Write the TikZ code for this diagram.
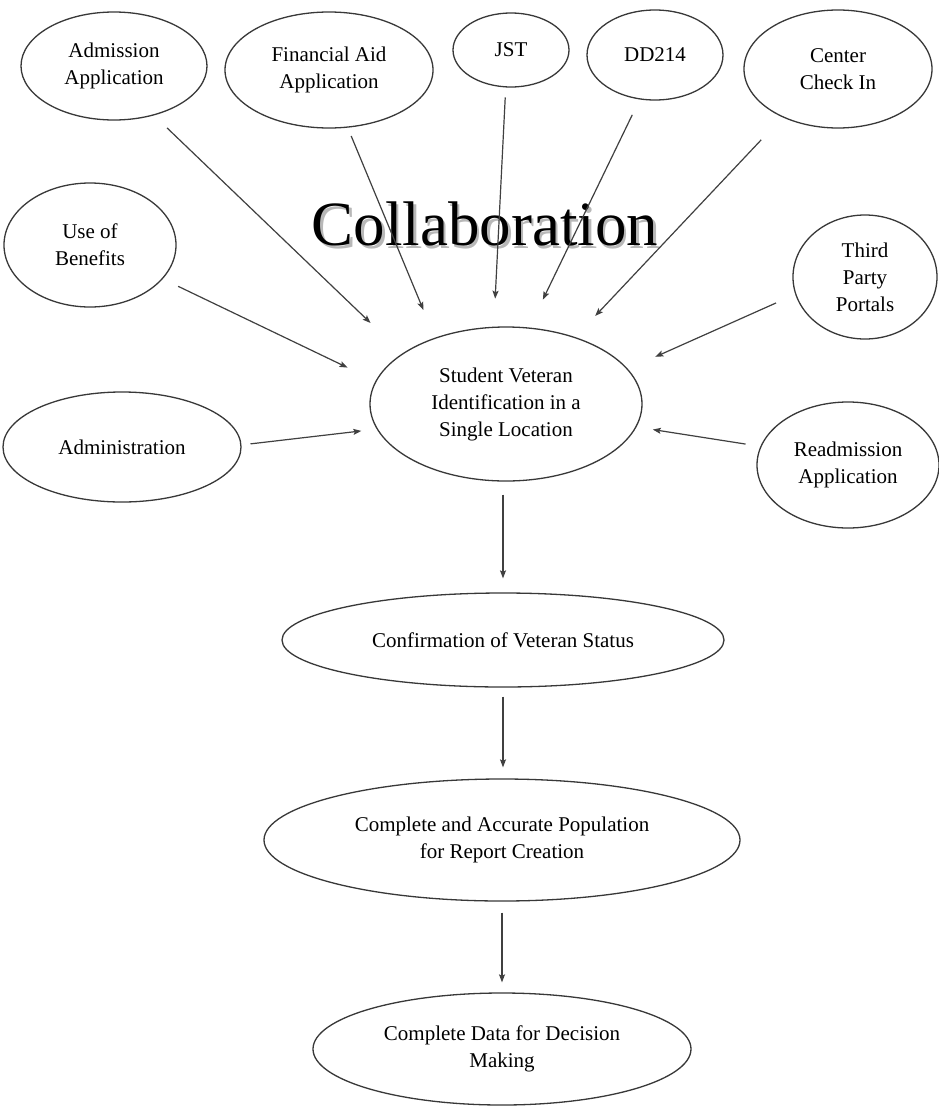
\documentclass[tikz,border=0pt]{standalone}
\usepackage{fontspec}
\setmainfont{Liberation Serif}
\usetikzlibrary{shapes.geometric,arrows.meta}
\begin{document}
\begin{tikzpicture}[x=1pt,y=-1pt,
  bub/.style={ellipse,draw=black!78,line width=1.3pt,inner sep=0pt,align=center,
              font=\fontsize{21}{27}\selectfont},
  arr/.style={draw=black!75,line width=1.2pt,-{Stealth[length=8pt,width=6pt,inset=1.5pt]}},
  bigtxt/.style={anchor=base,font=\fontsize{63}{70}\selectfont}]
\fill[white] (0,0) rectangle (938,1106);
\useasboundingbox (0,0) rectangle (938,1106);

% top row
\node[bub,minimum width=186pt,minimum height=108pt] (adm) at (114,66) {Admission\\Application};
\node[bub,minimum width=208pt,minimum height=116pt] (fin) at (329,70) {Financial Aid\\Application};
\node[bub,minimum width=116pt,minimum height=74pt] (jst) at (511,50) {JST};
\node[bub,minimum width=136pt,minimum height=90pt] (dd) at (655,55) {DD214};
\node[bub,minimum width=188pt,minimum height=118pt] (cci) at (838,69) {Center\\Check In};

% side nodes
\node[bub,minimum width=172pt,minimum height=124pt] (uob) at (90,245) {Use of\\Benefits};
\node[bub,minimum width=144pt,minimum height=124pt] (tpp) at (865,277) {Third\\Party\\Portals};
\node[bub,minimum width=238pt,minimum height=110pt] (admin) at (122,447) {Administration};
\node[bub,minimum width=182pt,minimum height=126pt] (readm) at (848,465) {Readmission\\Application};

% centre and chain
\node[bub,minimum width=272pt,minimum height=154pt] (sv) at (506,404) {Student Veteran\\Identification in a\\Single Location};
\node[bub,minimum width=442pt,minimum height=94pt] (conf) at (503,640) {Confirmation of Veteran Status};
\node[bub,minimum width=476pt,minimum height=122pt] (comp) at (502,840) {Complete and Accurate Population\\for Report Creation};
\node[bub,minimum width=378pt,minimum height=112pt] (data) at (502,1049) {Complete Data for Decision\\Making};

% title with soft shadow
\node[bigtxt,text=black!28] (collabsh) at (487.5,248) {Collaboration};
\node[bigtxt] (collab) at (485,245) {Collaboration};

% connectors into the centre
\draw[arr,shorten <=18pt,shorten >=44pt] (adm.-51) -- (sv.154.25);
\draw[arr,shorten <=9pt,shorten >=30pt] (fin.-72.35) -- (sv.137.24);
\draw[arr,shorten <=10pt,shorten >=28pt] (jst.-98.5) -- (sv.99.8);
\draw[arr,shorten <=17pt,shorten >=31pt] (dd.-109.3) -- (sv.73.7);
\draw[arr,shorten <=31pt,shorten >=29pt] (cci.-139.3) -- (sv.44.35);
\draw[arr,shorten <=17pt,shorten >=31pt] (uob.-25.77) -- (sv.170.5);
\draw[arr,shorten <=21pt,shorten >=30pt] (tpp.-166.26) -- (sv.16.35);
\draw[arr,shorten <=9pt,shorten >=15.5pt] (admin.1.79) -- (sv.-169.83);
\draw[arr,shorten <=15pt,shorten >=16.5pt] (readm.168.37) -- (sv.-10.93);

% chain
\draw[arr,shorten <=13pt,shorten >=14pt] (conf.north |- sv.south) -- (conf.north);
\draw[arr,shorten <=9pt,shorten >=11pt] (conf.south) -- (conf.south |- comp.north);
\draw[arr,shorten <=11pt,shorten >=10pt] (comp.south) -- (comp.south |- data.north);
\end{tikzpicture}
\end{document}
